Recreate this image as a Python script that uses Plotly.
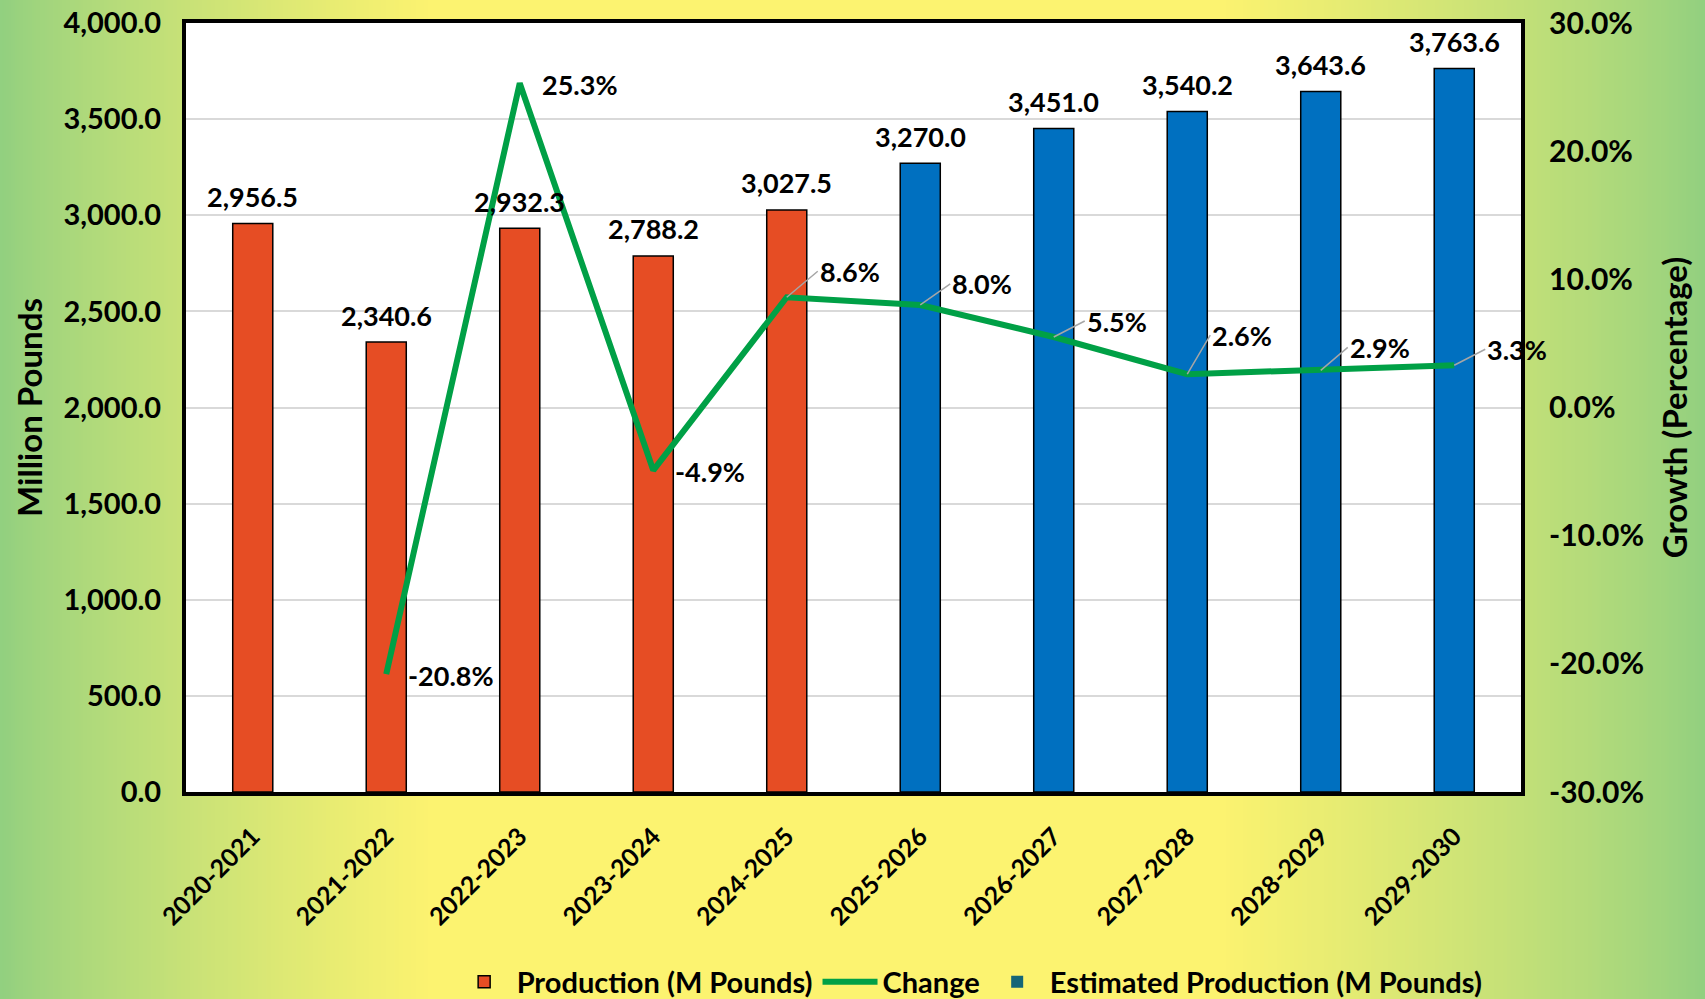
import base64, struct, zlib
import plotly.graph_objects as go

# ---- data ----
years = ["2020-2021", "2021-2022", "2022-2023", "2023-2024", "2024-2025",
         "2025-2026", "2026-2027", "2027-2028", "2028-2029", "2029-2030"]
production = [2956.5, 2340.6, 2932.3, 2788.2, 3027.5, None, None, None, None, None]
estimated = [None, None, None, None, None, 3270.0, 3451.0, 3540.2, 3643.6, 3763.6]
change_years = years[1:]
change = [-20.8, 25.3, -4.9, 8.6, 8.0, 5.5, 2.6, 2.9, 3.3]
# label offsets (pixels) for change labels; None = no leader line
label_offsets = [None, None, None, (31, -26), (30, -21), (31, -16), (23, -39), (27, -23), (31, -16)]
growth_ticks = [-30, -20, -10, 0, 10, 20, 30]

FONT = "Lato"
W, H = 1705, 999
ML, MR, MT, MB = 186, 184, 23, 207
PW, PH = W - ML - MR, H - MT - MB


def gradient_uri(width=400):
    green = (146, 208, 128)
    yellow = (252, 243, 112)
    row = bytearray([0])
    for i in range(width):
        t = i / (width - 1)
        if t < 0.25:
            f = t / 0.25
        elif t > 0.72:
            f = (1 - t) / 0.28
        else:
            f = 1.0
        f = f ** 0.8
        c = [int(green[k] + (yellow[k] - green[k]) * f) for k in range(3)]
        row += bytes(c)
    rows = bytes(row)

    def chunk(tag, data):
        return struct.pack(">I", len(data)) + tag + data + struct.pack(">I", zlib.crc32(tag + data) & 0xffffffff)
    png = b"\x89PNG\r\n\x1a\n" + chunk(b"IHDR", struct.pack(">IIBBBBB", width, 1, 8, 2, 0, 0, 0)) \
        + chunk(b"IDAT", zlib.compress(rows)) + chunk(b"IEND", b"")
    return "data:image/png;base64," + base64.b64encode(png).decode()


bold = dict(family=FONT, size=27, color="black", weight="bold")

fig = go.Figure()
fig.add_trace(go.Bar(
    x=years, y=production, name="Production (M Pounds)",
    marker=dict(color="#E64D24", line=dict(color="black", width=1.5)),
    width=0.3,
))
fig.add_trace(go.Scatter(
    x=change_years, y=change, name="Change", yaxis="y2", mode="lines",
    line=dict(color="#00A046", width=6),
))
fig.add_trace(go.Bar(
    x=[years[5]], y=[None], name="Estimated Production (M Pounds)",
    marker=dict(color="#156677", line=dict(width=0)),
))
fig.add_trace(go.Bar(
    x=years, y=estimated, name="Estimated Production (M Pounds)", showlegend=False,
    marker=dict(color="#0070C0", line=dict(color="black", width=1.5)),
    width=0.3,
))

annotations = []
# bar value labels
for xv, pv, ev in zip(years, production, estimated):
    v = pv if pv is not None else ev
    annotations.append(dict(x=xv, y=v, xref="x", yref="y", text=f"{v:,.1f}", showarrow=False,
                            yanchor="middle", yshift=27, font=bold))
# change labels
for xv, yv, off in zip(change_years, change, label_offsets):
    txt = f"{yv:.1f}%"
    if off is None:
        annotations.append(dict(x=xv, y=yv, xref="x", yref="y2", text=txt, showarrow=False,
                                xanchor="left", xshift=20, yshift=-1, font=bold))
    else:
        annotations.append(dict(x=xv, y=yv, xref="x", yref="y2", text=txt, showarrow=True,
                                arrowhead=0, arrowwidth=1.5, arrowcolor="#A6A6A6",
                                ax=off[0], ay=off[1], xanchor="left", font=bold))

fig.update_layout(
    width=W, height=H,
    margin=dict(l=ML, r=MR, t=MT, b=MB, autoexpand=False),
    paper_bgcolor="#FCF370",
    plot_bgcolor="rgba(0,0,0,0)",
    barmode="overlay",
    font=dict(family=FONT, color="black"),
    images=[dict(source=gradient_uri(), xref="paper", yref="paper",
                 x=-ML / PW, y=1 + MT / PH, sizex=W / PW, sizey=H / PH,
                 xanchor="left", yanchor="top", sizing="stretch", layer="below")],
    shapes=[dict(type="rect", xref="paper", yref="paper", x0=0, x1=1, y0=0, y1=1,
                 fillcolor="white", line=dict(width=0), layer="below")],
    xaxis=dict(
        range=[-0.5, len(years) - 0.5], fixedrange=True,
        tickangle=-45, tickfont=dict(family=FONT, size=25, weight="bold"),
        showline=True, linecolor="black", linewidth=4, mirror=True,
        showgrid=False, ticks="", automargin=False, ticklabelstandoff=16,
    ),
    yaxis=dict(
        range=[0, 4000], dtick=500, tickformat=",.1f",
        tickfont=dict(family=FONT, size=29, weight="bold"),
        showgrid=True, gridcolor="#D9D9D9", gridwidth=2,
        showline=True, linecolor="black", linewidth=4, mirror=True,
        ticks="", ticklabelstandoff=15, zeroline=False, automargin=False,
        title=dict(text="Million Pounds", font=dict(family=FONT, size=33, weight="bold"), standoff=12),
    ),
    yaxis2=dict(
        overlaying="y", side="right", range=[-30, 30],
        tickvals=growth_ticks, ticktext=[f"{v:.1f}%" for v in growth_ticks],
        tickfont=dict(family=FONT, size=30, weight="bold"),
        showgrid=False, zeroline=False, showline=False, ticks="",
        ticklabelstandoff=27, automargin=False,
        title=dict(text="Growth (Percentage)", font=dict(family=FONT, size=33, weight="bold"), standoff=20),
    ),
    legend=dict(orientation="h", x=0.587, xanchor="center", y=-0.247, yanchor="middle",
                font=dict(family=FONT, size=29, weight="bold"), bgcolor="rgba(0,0,0,0)",
                traceorder="normal", itemwidth=55),
    annotations=annotations,
    showlegend=True,
)

fig.write_html("out.html", post_script="document.body.style.margin='0';",
               config={"displayModeBar": False})
